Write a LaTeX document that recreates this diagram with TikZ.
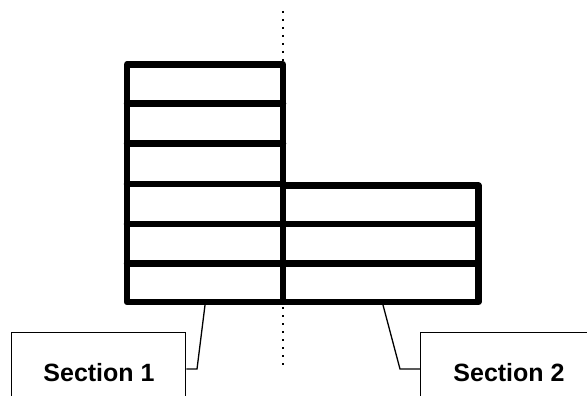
\documentclass[tikz,border=0pt]{standalone}
\usepackage{fontspec}
\setmainfont{Liberation Sans}
\begin{document}
\begin{tikzpicture}[x=1pt,y=-1pt,
  thickcell/.style={draw=black,line width=6.5pt,line join=round,line cap=round},
  secbox/.style={draw=black,line width=1.3pt,rectangle,inner sep=0pt,anchor=north west},
  seclabel/.style={font=\fontsize{25}{30}\selectfont\bfseries,anchor=base,inner sep=0pt},
  leader/.style={draw=black,line width=1.3pt},
  guide/.style={draw=black,line width=2pt,dash pattern=on 2pt off 6pt}]
\useasboundingbox (0,0) rectangle (587,396);
% dotted centre line
\coordinate (gtop) at (283,11);
\coordinate (gbot) at (283,365);
\draw[guide] (gtop) -- (gbot);
% left column (six rows)
\fill[white] (127,64.5) rectangle (283,302);
\draw[thickcell] (127,64.5) rectangle (283,302);
\foreach \y in {103.5,143.5,184,224,263.5}
  \draw[thickcell] (127,\y) -- (283,\y);
% right column (three rows)
\fill[white] (283,185.5) rectangle (478.5,302);
\draw[thickcell] (283,185.5) rectangle (478.5,302);
\foreach \y in {224,263.5}
  \draw[thickcell] (283,\y) -- (478.5,\y);
% section boxes
\node[secbox,minimum width=174pt,minimum height=80pt] (s1box) at (11,332) {};
\node[seclabel] (s1) at (99,381) {Section 1};
\node[secbox,minimum width=190pt,minimum height=80pt] (s2box) at (420,332) {};
\node[seclabel] (s2) at (509,381) {Section 2};
% leaders
\coordinate (a1) at (205,305);
\coordinate (b1) at (197,369);
\coordinate (a2) at (383,305);
\coordinate (b2) at (400,369);
\draw[leader] (a1) -- (b1) -- (b1 -| s1box.east);
\draw[leader] (a2) -- (b2) -- (b2 -| s2box.west);
\end{tikzpicture}
\end{document}
